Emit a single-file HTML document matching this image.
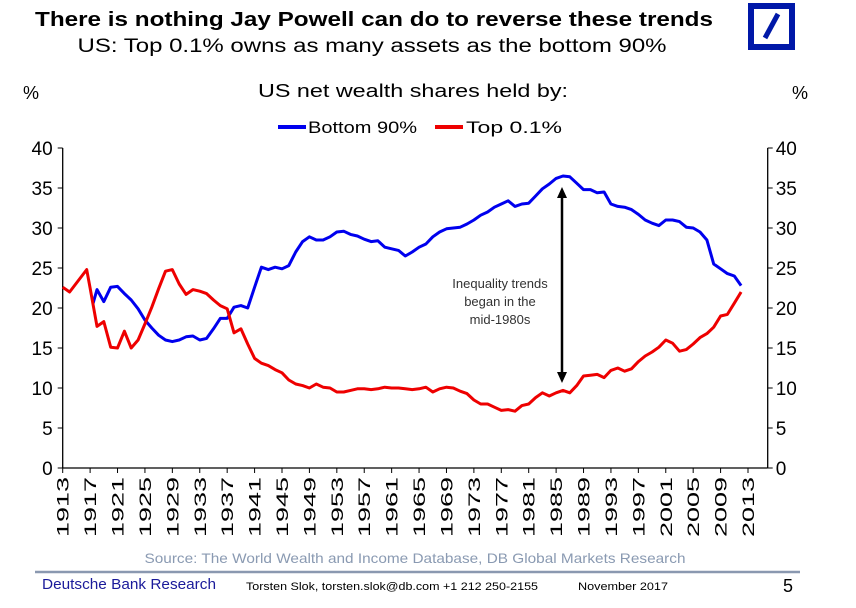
<!DOCTYPE html>
<html><head><meta charset="utf-8"><style>
html,body{margin:0;padding:0;background:#fff;}
svg{display:block;font-family:"Liberation Sans",Arial,sans-serif;}
</style></head><body>
<svg id="chart" width="856" height="608" viewBox="0 0 856 608">
  <text x="374" y="26" text-anchor="middle" font-size="20" font-weight="bold" textLength="678" lengthAdjust="spacingAndGlyphs">There is nothing Jay Powell can do to reverse these trends</text>
  <text x="372" y="52" text-anchor="middle" font-size="19" textLength="589" lengthAdjust="spacingAndGlyphs">US: Top 0.1% owns as many assets as the bottom 90%</text>
  <g>
    <rect x="751" y="6" width="41" height="41" fill="none" stroke="#0018a8" stroke-width="6"/>
    <line x1="765" y1="38" x2="778" y2="14" stroke="#0018a8" stroke-width="5"/>
  </g>
  <text x="31" y="99" text-anchor="middle" font-size="18">%</text>
  <text x="800" y="99" text-anchor="middle" font-size="18">%</text>
  <text x="413" y="97" text-anchor="middle" font-size="18" textLength="310" lengthAdjust="spacingAndGlyphs">US net wealth shares held by:</text>
  <g>
    <line x1="278" y1="127" x2="306" y2="127" stroke="#0000ee" stroke-width="4"/>
    <text x="308" y="133" font-size="17" textLength="109" lengthAdjust="spacingAndGlyphs">Bottom 90%</text>
    <line x1="435" y1="127" x2="463" y2="127" stroke="#ee0000" stroke-width="4"/>
    <text x="466" y="133" font-size="17" textLength="96" lengthAdjust="spacingAndGlyphs">Top 0.1%</text>
  </g>
  <g id="axes"></g>
  <g id="series"></g>
  <g>
    <line x1="562" y1="194" x2="562" y2="376" stroke="#000" stroke-width="2.5"/>
    <polygon points="562,187 557,198 567,198" fill="#000"/>
    <polygon points="562,383 557,372 567,372" fill="#000"/>
    <text x="500" y="288" text-anchor="middle" font-size="13" fill="#333">
      <tspan x="500" y="288">Inequality trends</tspan><tspan x="500" y="306">began in the</tspan><tspan x="500" y="324">mid-1980s</tspan></text>
  </g>
  <text x="415" y="563" text-anchor="middle" font-size="14" fill="#8a9ab2" textLength="541" lengthAdjust="spacingAndGlyphs">Source: The World Wealth and Income Database, DB Global Markets Research</text>
  <line x1="35" y1="572" x2="800" y2="572" stroke="#8a98b0" stroke-width="2.5"/>
  <text x="42" y="589" font-size="15" fill="#1a1a9a" textLength="174" lengthAdjust="spacingAndGlyphs">Deutsche Bank Research</text>
  <text x="246" y="590" font-size="11" textLength="292" lengthAdjust="spacingAndGlyphs">Torsten Slok, torsten.slok@db.com  +1 212 250-2155</text>
  <text x="578" y="590" font-size="11" textLength="90" lengthAdjust="spacingAndGlyphs">November  2017</text>
  <text x="788" y="592" text-anchor="middle" font-size="18">5</text>
</svg>
<script>
const NS = "http://www.w3.org/2000/svg";
const yTicks = [0,5,10,15,20,25,30,35,40];
const yearTicks = [1913,1917,1921,1925,1929,1933,1937,1941,1945,1949,1953,1957,1961,1965,1969,1973,1977,1981,1985,1989,1993,1997,2001,2005,2009,2013];
const redYears = [1913,1914,1916.5,1917,1918,1919,1920,1921,1922,1923,1924,1925,1926,1927,1928,1929,1930,1931,1932,1933,1934,1935,1936,1937,1938,1939,1940,1941,1942,1943,1944,1945,1946,1947,1948,1949,1950,1951,1952,1953,1954,1955,1956,1957,1958,1959,1960,1961,1962,1963,1964,1965,1966,1967,1968,1969,1970,1971,1972,1973,1974,1975,1976,1977,1978,1979,1980,1981,1982,1983,1984,1985,1986,1987,1988,1989,1990,1991,1992,1993,1994,1995,1996,1997,1998,1999,2000,2001,2002,2003,2004,2005,2006,2007,2008,2009,2010,2011,2012];
const top01 = [22.6,22.0,24.8,22.5,17.7,18.3,15.1,15.0,17.1,15.0,16.0,18.0,20.1,22.4,24.6,24.8,23.0,21.7,22.3,22.1,21.8,21.0,20.3,19.9,16.9,17.4,15.5,13.7,13.1,12.8,12.3,11.9,11.0,10.5,10.3,10.0,10.5,10.1,10.0,9.5,9.5,9.7,9.9,9.9,9.8,9.9,10.1,10.0,10.0,9.9,9.8,9.9,10.1,9.5,9.9,10.1,10.0,9.6,9.3,8.5,8.0,8.0,7.6,7.2,7.3,7.1,7.8,8.0,8.8,9.4,9.0,9.4,9.7,9.4,10.3,11.5,11.6,11.7,11.3,12.2,12.5,12.1,12.4,13.3,14.0,14.5,15.1,16.0,15.6,14.6,14.8,15.5,16.3,16.8,17.6,19.0,19.2,20.6,22.0];
const blueYears = [1917.4,1918,1919,1920,1921,1922,1923,1924,1925,1926,1927,1928,1929,1930,1931,1932,1933,1934,1935,1936,1937,1938,1939,1940,1941,1942,1943,1944,1945,1946,1947,1948,1949,1950,1951,1952,1953,1954,1955,1956,1957,1958,1959,1960,1961,1962,1963,1964,1965,1966,1967,1968,1969,1970,1971,1972,1973,1974,1975,1976,1977,1978,1979,1980,1981,1982,1983,1984,1985,1986,1987,1988,1989,1990,1991,1992,1993,1994,1995,1996,1997,1998,1999,2000,2001,2002,2003,2004,2005,2006,2007,2008,2009,2010,2011,2012];
const bottom90 = [20.5,22.3,20.8,22.6,22.7,21.8,21.0,19.9,18.5,17.5,16.6,16.0,15.8,16.0,16.4,16.5,16.0,16.2,17.4,18.7,18.7,20.1,20.3,20.0,22.6,25.1,24.8,25.1,24.9,25.3,27.0,28.3,28.9,28.5,28.5,28.9,29.5,29.6,29.2,29.0,28.6,28.3,28.4,27.6,27.4,27.2,26.5,27.0,27.6,28.0,28.9,29.5,29.9,30.0,30.1,30.5,31.0,31.6,32.0,32.6,33.0,33.4,32.7,33.0,33.1,34.0,34.9,35.5,36.2,36.5,36.4,35.6,34.8,34.8,34.4,34.5,33.0,32.7,32.6,32.3,31.7,31.0,30.6,30.3,31.0,31.0,30.8,30.1,30.0,29.5,28.5,25.5,24.9,24.3,24.0,22.8];

const X0 = 62.7, PX_PER_YEAR = 6.853, Y0 = 468, PX_PER_UNIT = 8.0, XR = 767.7;
function xScale(yr){ return X0 + (yr - 1913) * PX_PER_YEAR; }
function yScale(v){ return Y0 - v * PX_PER_UNIT; }

const axes = document.getElementById('axes');
const series = document.getElementById('series');
function mk(tag, attrs, parent){ const e = document.createElementNS(NS, tag); for (const k in attrs) e.setAttribute(k, attrs[k]); parent.appendChild(e); return e; }

const la = mk('line',{x1:X0,y1:yScale(40),x2:X0,y2:Y0,stroke:'#000','stroke-width':1.3},axes);


const ra = mk('line',{x1:XR,y1:yScale(40),x2:XR,y2:Y0,stroke:'#000','stroke-width':1.3},axes);


const xa = mk('line',{x1:X0,y1:Y0,x2:XR,y2:Y0,stroke:'#000','stroke-width':1.3},axes);



yTicks.forEach(v => {
  const y = yScale(v);
  mk('line',{x1:X0-5,y1:y,x2:X0,y2:y,stroke:'#000','stroke-width':1},axes);
  mk('line',{x1:XR,y1:y,x2:XR+5,y2:y,stroke:'#000','stroke-width':1},axes);
  const lt = mk('text',{x:X0-10,y:y+7,'text-anchor':'end','font-size':19},axes);
  lt.textContent = v;
  
  
  const rt = mk('text',{x:XR+8,y:y+7,'text-anchor':'start','font-size':19},axes);
  rt.textContent = v;
  
  
});
yearTicks.forEach(yr => {
  const x = xScale(yr);
  mk('line',{x1:x,y1:Y0,x2:x,y2:Y0+5,stroke:'#000','stroke-width':1},axes);
  const t = mk('text',{x:0,y:0,'text-anchor':'end','font-size':17,transform:`translate(${x+6},${Y0+9}) rotate(-90)`,textLength:60,lengthAdjust:'spacingAndGlyphs'},axes);
  t.textContent = yr;
  
  
});

function drawLine(years, vals, color, name){
  const d = years.map((yr,i)=>(i?'L':'M')+xScale(yr).toFixed(1)+','+yScale(vals[i]).toFixed(1)).join(' ');
  const p = mk('path',{d:d,fill:'none',stroke:color,'stroke-width':3,'stroke-linejoin':'round'},series);
  
  
}
drawLine(blueYears, bottom90, '#0000ee', 'bottom-90-line');
drawLine(redYears, top01, '#ee0000', 'top-0.1-line');
</script>
</body></html>
